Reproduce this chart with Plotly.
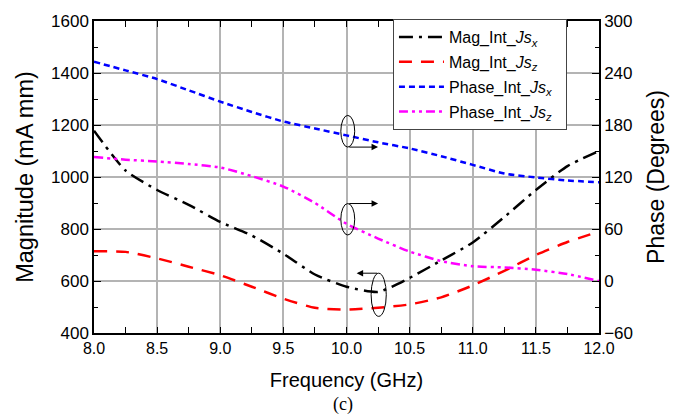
import plotly.graph_objects as go

# Frequency sweep (GHz)
freq = [8.0, 8.25, 8.5, 8.75, 9.0, 9.25, 9.5, 9.75, 10.0, 10.25, 10.5,
        10.75, 11.0, 11.25, 11.5, 11.75, 12.0]

# Magnitudes of the integrated surface currents (mA mm)
mag_jsx = [1178, 1025, 950, 893, 827, 775, 705, 625, 578, 558, 612,
           679, 748, 846, 950, 1042, 1100]
mag_jsz = [714, 712, 687, 655, 622, 578, 532, 497, 490, 497, 510,
           537, 583, 639, 700, 750, 790]

# Phases of the integrated surface currents (degrees)
phase_jsx = [253, 243, 233, 220, 207, 195, 184, 176, 168, 160, 153,
             144, 134, 124, 119.5, 116, 114]
phase_jsz = [143, 140, 138, 135, 131, 121, 109, 90, 66, 49, 34,
             23, 17, 15.7, 13, 8, 0]

x_ticks = [8.0, 8.5, 9.0, 9.5, 10.0, 10.5, 11.0, 11.5, 12.0]

FONT = "Liberation Sans, Arial, sans-serif"
GRID = "#b4b4b4"
PAD = "\u00a0\u00a0"

fig = go.Figure()
fig.add_trace(go.Scatter(
    x=freq, y=mag_jsx, mode="lines", name="Mag_Int_<i>Js</i><sub><i>x</i></sub>",
    legendgroup="a",
    line=dict(color="black", width=2.5, dash="14px,6px,3px,6px",
              shape="spline", smoothing=0.6)))
fig.add_trace(go.Scatter(
    x=freq, y=mag_jsz, mode="lines", name="Mag_Int_<i>Js</i><sub><i>z</i></sub>",
    legendgroup="b",
    line=dict(color="red", width=2.5, dash="13px,9px",
              shape="spline", smoothing=0.6)))
fig.add_trace(go.Scatter(
    x=freq, y=phase_jsx, mode="lines", yaxis="y2", legendgroup="c",
    name="Phase_Int_<i>Js</i><sub><i>x</i></sub>" + PAD,
    line=dict(color="blue", width=2.5, dash="6px,4px",
              shape="spline", smoothing=0.6)))
fig.add_trace(go.Scatter(
    x=freq, y=phase_jsz, mode="lines", yaxis="y2", legendgroup="d",
    name="Phase_Int_<i>Js</i><sub><i>z</i></sub>" + PAD,
    line=dict(color="magenta", width=2.5, dash="9px,4px,3px,4px,3px,4px",
              shape="spline", smoothing=0.6)))

# Ellipses marking which curves belong to which axis
ellipses = [
    (9.955, 10.065, 1115, 1237),
    (9.955, 10.065, 777, 898),
    (10.195, 10.315, 464, 630),
]
for x0, x1, y0, y1 in ellipses:
    fig.add_shape(type="circle", xref="x", yref="y", x0=x0, x1=x1, y0=y0, y1=y1,
                  line=dict(color="black", width=1))

# Arrows pointing to the relevant axis
arrows = [
    (10.01, 1115, 10.25),
    (10.01, 898, 10.25),
    (10.255, 630, 10.08),
]
for xs, ys, xe in arrows:
    fig.add_annotation(x=xe, y=ys, ax=xs, ay=ys, xref="x", yref="y",
                       axref="x", ayref="y", showarrow=True, arrowhead=2,
                       arrowsize=1.3, arrowwidth=1, arrowcolor="black", text="")

fig.add_annotation(text="(c)", xref="paper", yref="paper", x=0.493, y=-0.228,
                   yanchor="middle", xanchor="center", showarrow=False,
                   font=dict(family="Liberation Serif, Times New Roman, serif",
                             size=18, color="black"))

axis_common = dict(showline=True, linecolor="black", linewidth=1.5,
                   ticks="inside", tickcolor="black", tickwidth=1.2)

fig.update_layout(
    width=691, height=416,
    margin=dict(l=94, r=92, t=16, b=83),
    paper_bgcolor="white", plot_bgcolor="white",
    font=dict(family=FONT, color="black"),
    showlegend=True,
    legend=dict(x=0.592, y=1.006, xanchor="left", yanchor="top",
                bgcolor="white", bordercolor="#444", borderwidth=1,
                font=dict(family=FONT, size=16, color="black"),
                itemwidth=45, tracegroupgap=1),
    xaxis=dict(range=[8.0, 12.0], tickvals=x_ticks, tickformat=".1f",
               mirror="allticks", ticklen=6,
               showgrid=True, gridcolor=GRID, gridwidth=1.5,
               tickfont=dict(family=FONT, size=16, color="black"),
               minor=dict(ticks="inside", ticklen=3, dtick=0.25, tickcolor="black"),
               title=dict(text="Frequency (GHz)", font=dict(family=FONT, size=20), standoff=17),
               **axis_common),
    yaxis=dict(range=[400, 1600], dtick=200, ticklen=7,
               showgrid=True, gridcolor=GRID, gridwidth=1.5, zeroline=False,
               tickfont=dict(family=FONT, size=17, color="black"),
               minor=dict(ticks="inside", ticklen=4, dtick=100, tickcolor="black"),
               title=dict(text="Magnitude (mA mm)", font=dict(family=FONT, size=23.5), standoff=11),
               **axis_common),
    yaxis2=dict(range=[-60, 300], dtick=60, overlaying="y", side="right", ticklen=7,
                showgrid=False, zeroline=False,
                tickfont=dict(family=FONT, size=17, color="black"),
                minor=dict(ticks="inside", ticklen=4, dtick=30, tickcolor="black"),
                title=dict(text="Phase (Degrees)", font=dict(family=FONT, size=23), standoff=16),
                **axis_common),
)

fig.write_html("out.html")
